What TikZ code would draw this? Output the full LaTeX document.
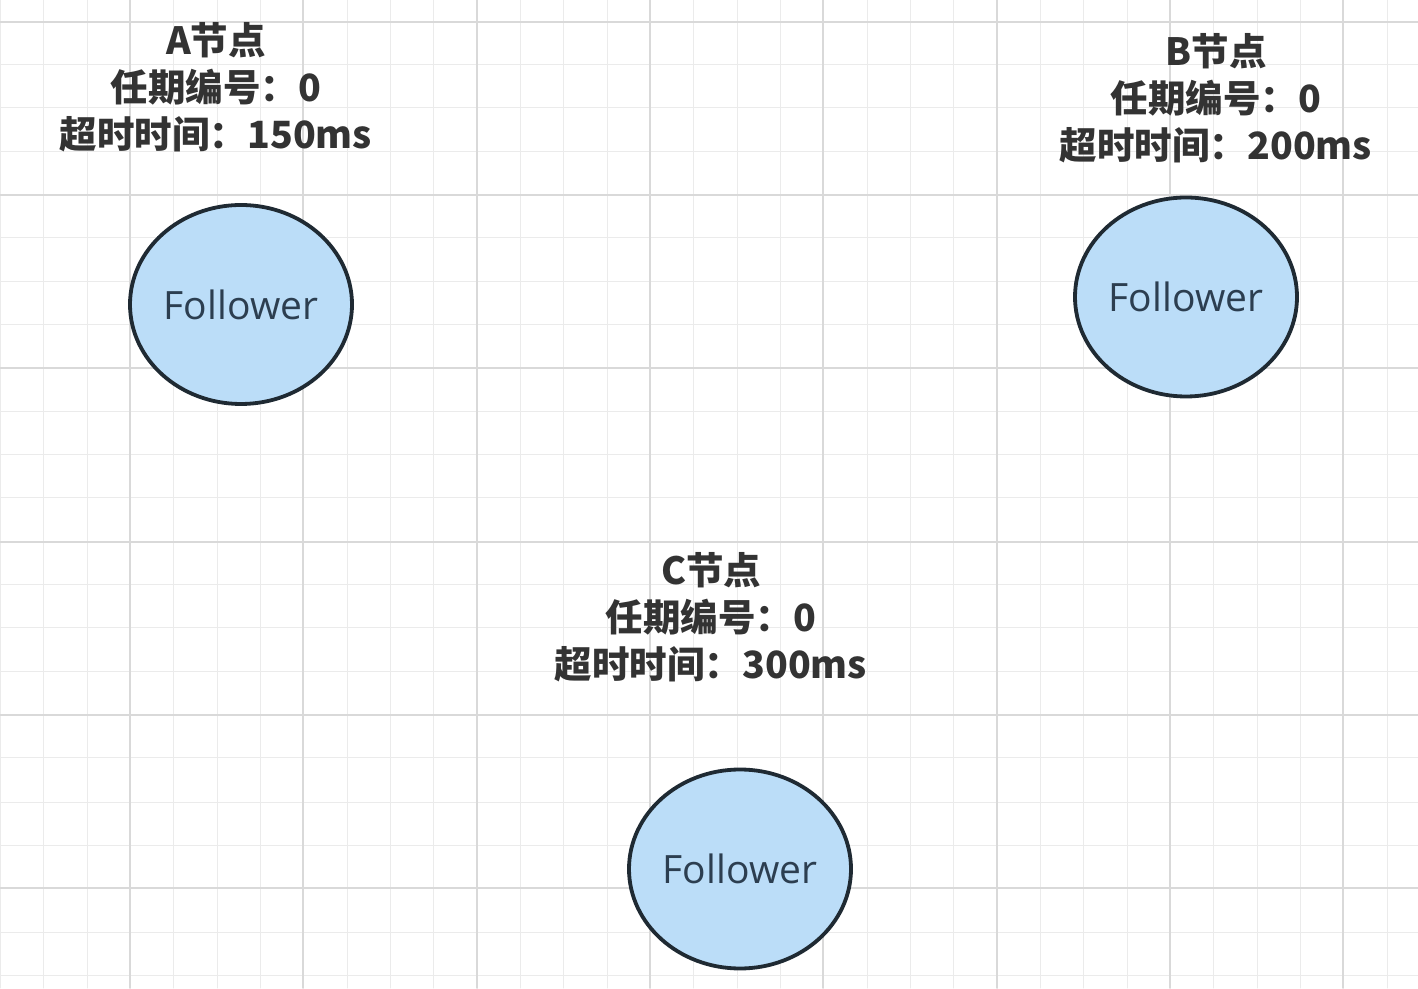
\documentclass[tikz,border=0pt]{standalone}
\usepackage{fontspec}
\setmainfont{Open Sans}
\newfontfamily\cjk{Noto Sans CJK SC}
\usepackage{tikz}
\usetikzlibrary{shapes.geometric}
\usepackage{xcolor}
\definecolor{gridminor}{HTML}{EBEBEB}
\definecolor{gridmajor}{HTML}{D9D9D9}
\definecolor{nodefill}{HTML}{BBDDF8}
\definecolor{nodeline}{HTML}{1F2A33}
\definecolor{nodetext}{HTML}{2C3E50}
\definecolor{infotext}{HTML}{333333}

\begin{document}
\begin{tikzpicture}[x=1pt,y=1pt,line cap=round,
  follower/.style={ellipse,draw=nodeline,fill=nodefill,line width=3.8pt,
    minimum width=222pt,minimum height=199pt,inner sep=0pt,text=nodetext,
    font=\fontsize{39}{42}\selectfont},
  nodeinfo/.style={align=center,text=infotext,inner sep=0pt,
    font=\cjk\bfseries\fontsize{37.5}{47}\selectfont}]
\useasboundingbox (0,0) rectangle (1418,988);
\fill[white] (0,0) rectangle (1418,988);
\foreach \i in {0,...,33} {
  \pgfmathsetmacro\xx{round(\i*43.333)}
  \draw[gridminor,line width=1pt] (\xx,0) -- (\xx,988);
}
\foreach \i in {0,...,23} {
  \pgfmathsetmacro\yy{round(13+\i*43.333)}
  \draw[gridminor,line width=1pt] (0,\yy) -- (1418,\yy);
}
\foreach \i in {0,...,7} {
  \pgfmathsetmacro\xx{round(130+\i*173.333)}
  \draw[gridmajor,line width=1.6pt] (\xx,0) -- (\xx,988);
}
\foreach \i in {0,...,5} {
  \pgfmathsetmacro\yy{round(99.67+\i*173.333)}
  \draw[gridmajor,line width=1.6pt] (0,\yy) -- (1418,\yy);
}
\node[follower] (nodeA) at (241,683.5) {Follower};
\node[follower] (nodeB) at (1186,691) {Follower};
\node[follower] (nodeC) at (740,119) {Follower};
\node[nodeinfo] (infoA) at (216,901) {A节点\\任期编号：0\\超时时间：150ms};
\node[nodeinfo] (infoB) at (1216,890) {B节点\\任期编号：0\\超时时间：200ms};
\node[nodeinfo] (infoC) at (711,370.5) {C节点\\任期编号：0\\超时时间：300ms};
\end{tikzpicture}
\end{document}
